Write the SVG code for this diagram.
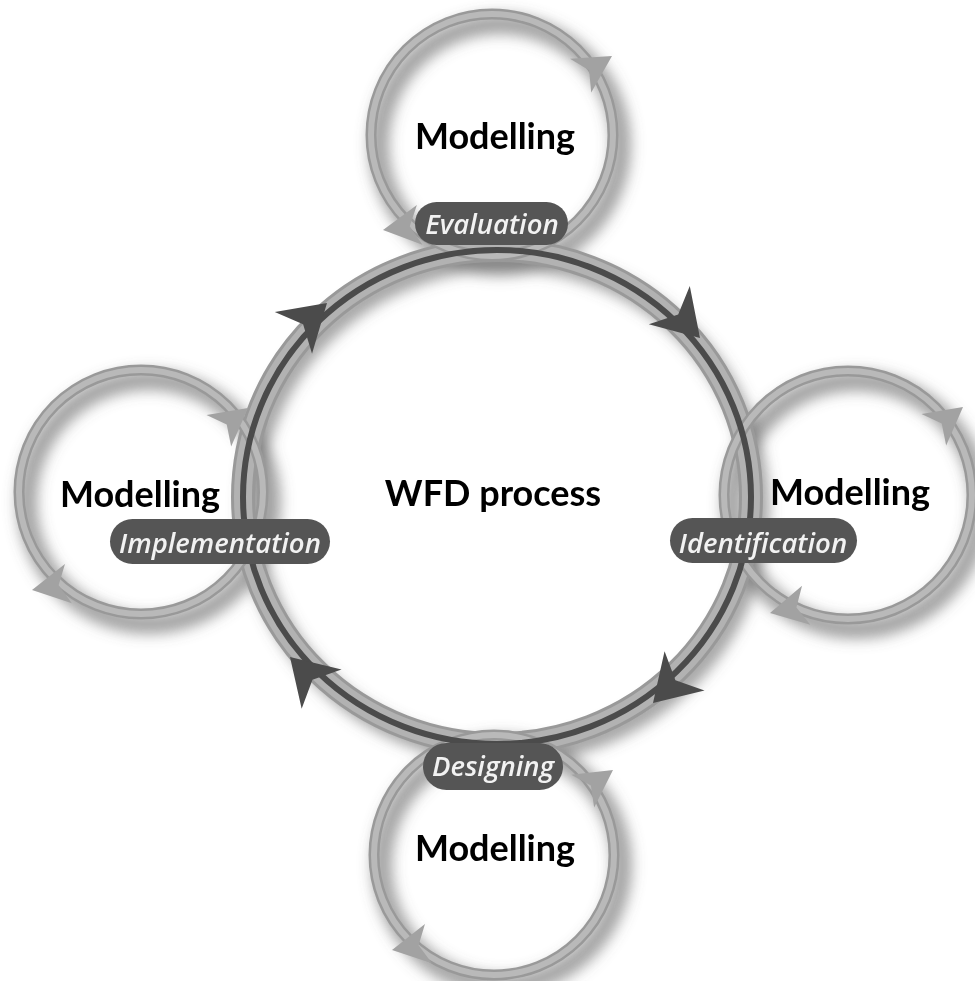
<svg xmlns="http://www.w3.org/2000/svg" width="975" height="981" viewBox="0 0 975 981">
<style>
.shadow{fill:none;stroke:#666;stroke-width:20;opacity:.6}
.ringOut{fill:none;stroke:#999;stroke-width:11}
.ringIn{fill:none;stroke:#b9b9b9;stroke-width:6}
.mainOut{fill:none;stroke:#999;stroke-width:24}
.mainIn{fill:none;stroke:#b2b2b2;stroke-width:18}
.mainLine{fill:none;stroke:#4b4b4b;stroke-width:6}
.ahMain{fill:#4b4b4b}
.ahSmall{fill:#a2a2a2}
.title{font-family:Lato,"Liberation Sans",sans-serif;font-weight:bold;font-size:36px;fill:#000;text-anchor:middle}
.pill{fill:#555}
.lbl{font-family:"Open Sans",Lato,"Liberation Sans",sans-serif;font-style:italic;font-weight:600;font-size:27.5px;fill:#f2f2f2;text-anchor:middle}
</style>
<defs>
<filter id="blur" x="-30%" y="-30%" width="160%" height="160%"><feGaussianBlur stdDeviation="7"/></filter>
<path id="ah" d="M0,0 L-45,-28 L-32,0 L-45,28 Z"/>
<path id="ahs" d="M0,0 L-37,-20 L-27,0 L-37,20 Z"/>
</defs>
<rect width="975" height="981" fill="#fff"/>
<g id="shadows" filter="url(#blur)" transform="translate(8,10)">
<ellipse class="shadow" cx="497" cy="497" rx="254" ry="247"/>
<circle class="shadow" cx="492" cy="135" r="121"/>
<circle class="shadow" cx="848" cy="495" r="124"/>
<circle class="shadow" cx="141" cy="492" r="122"/>
<circle class="shadow" cx="494" cy="855" r="120"/>
</g>
<g id="main-ring">
<ellipse class="mainOut" cx="497" cy="497" rx="254" ry="247"/>
<ellipse class="mainIn" cx="497" cy="497" rx="254" ry="247"/>
</g>
<g id="node-top">
<circle class="ringOut" cx="492" cy="135" r="121"/>
<circle class="ringIn" cx="492" cy="135" r="121"/>
<use href="#ahs" class="ahSmall" transform="translate(612,56) rotate(-32)"/>
<use href="#ahs" class="ahSmall" transform="translate(383,230) rotate(172)"/>
<text class="title" x="495" y="149">Modelling</text>
</g>
<g id="node-right">
<circle class="ringOut" cx="848" cy="495" r="124"/>
<circle class="ringIn" cx="848" cy="495" r="124"/>
<use href="#ahs" class="ahSmall" transform="translate(963,407) rotate(-38)"/>
<use href="#ahs" class="ahSmall" transform="translate(770,613) rotate(168)"/>
<text class="title" x="850" y="505">Modelling</text>
</g>
<g id="node-left">
<circle class="ringOut" cx="141" cy="492" r="122"/>
<circle class="ringIn" cx="141" cy="492" r="122"/>
<use href="#ahs" class="ahSmall" transform="translate(248,408) rotate(-38)"/>
<use href="#ahs" class="ahSmall" transform="translate(32,590) rotate(170)"/>
<text class="title" x="140" y="507">Modelling</text>
</g>
<g id="node-bottom">
<circle class="ringOut" cx="494" cy="855" r="120"/>
<circle class="ringIn" cx="494" cy="855" r="120"/>
<use href="#ahs" class="ahSmall" transform="translate(613,770) rotate(-35)"/>
<use href="#ahs" class="ahSmall" transform="translate(392,950) rotate(170)"/>
<text class="title" x="495" y="861">Modelling</text>
</g>
<g id="connectors">
<ellipse class="mainLine" cx="497" cy="497" rx="254" ry="247"/>
<use href="#ah" class="ahMain" transform="translate(700,338) rotate(47)"/>
<use href="#ah" class="ahMain" transform="translate(653,703) rotate(134.5)"/>
<use href="#ah" class="ahMain" transform="translate(290,657) rotate(-134.6)"/>
<use href="#ah" class="ahMain" transform="translate(327,303) rotate(-41.7)"/>
</g>
<g id="node-center">
<text class="title" x="493" y="506">WFD process</text>
</g>
<g id="label-evaluation">
<rect class="pill" x="415" y="202" width="153" height="43" rx="21.5"/>
<text class="lbl" x="492" y="234">Evaluation</text>
</g>
<g id="label-identification">
<rect class="pill" x="670" y="518" width="187" height="45" rx="22.5"/>
<text class="lbl" x="763" y="553">Identification</text>
</g>
<g id="label-implementation">
<rect class="pill" x="110" y="519" width="220" height="45" rx="22.5"/>
<text class="lbl" x="220" y="553">Implementation</text>
</g>
<g id="label-designing">
<rect class="pill" x="423" y="743" width="140" height="47" rx="23.5"/>
<text class="lbl" x="493" y="776">Designing</text>
</g>
</svg>
